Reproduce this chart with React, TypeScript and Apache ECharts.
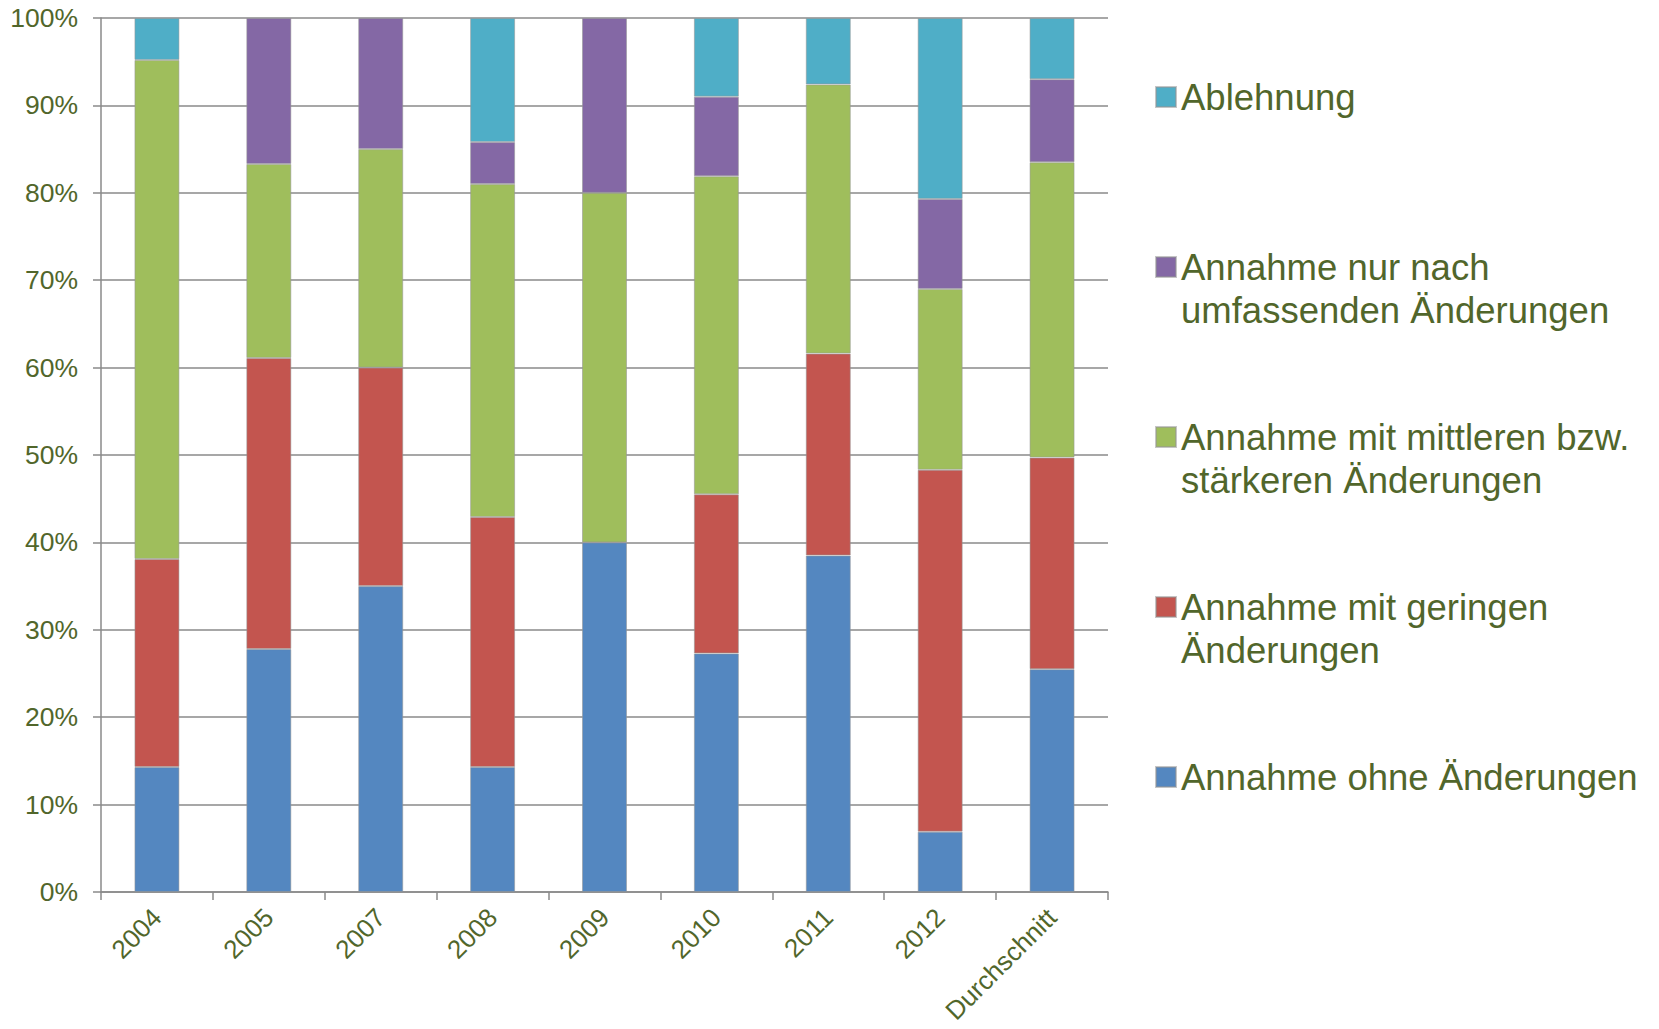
import React, { useEffect, useRef } from "react";
import * as echarts from "echarts";

const categories = ["2004", "2005", "2007", "2008", "2009", "2010", "2011", "2012", "Durchschnitt"];
const ohneAenderungen = [14.3, 27.8, 35.0, 14.3, 40.0, 27.3, 38.5, 6.9, 25.5];
const geringeAenderungen = [23.8, 33.3, 25.0, 28.6, 0, 18.2, 23.1, 41.4, 24.2];
const mittlereAenderungen = [57.1, 22.2, 25.0, 38.1, 40.0, 36.4, 30.8, 20.7, 33.8];
const umfassendeAenderungen = [0, 16.7, 15.0, 4.8, 20.0, 9.1, 0, 10.3, 9.5];
const ablehnung = [4.8, 0, 0, 14.2, 0, 9.0, 7.6, 20.7, 7.0];

const seriesNames = [
  "Annahme ohne Änderungen",
  "Annahme mit geringen Änderungen",
  "Annahme mit mittleren bzw. stärkeren Änderungen",
  "Annahme nur nach umfassenden Änderungen",
  "Ablehnung",
];
// legend text, wrapped as in the legend block
const legendLabels: Record<string, string[]> = {
  "Annahme ohne Änderungen": ["Annahme ohne Änderungen"],
  "Annahme mit geringen Änderungen": ["Annahme mit geringen", "Änderungen"],
  "Annahme mit mittleren bzw. stärkeren Änderungen": ["Annahme mit mittleren bzw.", "stärkeren Änderungen"],
  "Annahme nur nach umfassenden Änderungen": ["Annahme nur nach", "umfassenden Änderungen"],
  "Ablehnung": ["Ablehnung"],
};
const seriesValues = [ohneAenderungen, geringeAenderungen, mittlereAenderungen, umfassendeAenderungen, ablehnung];
const colors = ["#5487C0", "#C3554F", "#9FBE5C", "#8468A5", "#4FAEC7"];
// vertical centre of each legend marker, top to bottom
const legendOrder = [4, 3, 2, 1, 0];
const legendCenters = [97, 267, 437, 607, 777];

const TEXT = "#51662B";
const FONT = "Liberation Sans, Arial, sans-serif";
const LINE = "#8a8a8a";
const LEGEND_LH = 43;

export default function App() {
  const ref = useRef<HTMLDivElement>(null);

  useEffect(() => {
    if (!ref.current) return;
    const chart = echarts.init(ref.current, undefined, { renderer: "svg" });

    const legends = legendOrder.map((si, i) => {
      const name = seriesNames[si];
      const lines = legendLabels[name];
      // a blank leading line keeps the marker level with the first text line
      const shown = lines.length > 1 ? ["", ...lines] : lines;
      const blockH = shown.length * LEGEND_LH;
      return {
        data: [name],
        orient: "vertical",
        left: 1155,
        top: legendCenters[i] - blockH / 2,
        padding: 0,
        itemWidth: 20,
        itemHeight: 20,
        itemGap: 0,
        selectedMode: false,
        icon: "rect",
        formatter: () => shown.join("\n"),
        textStyle: {
          color: TEXT,
          fontFamily: FONT,
          fontSize: 36.5,
          lineHeight: LEGEND_LH,
        },
      };
    });

    chart.setOption({
      animation: false,
      backgroundColor: "#ffffff",
      grid: {
        left: 101,
        right: 551,
        top: 18,
        bottom: 137,
        containLabel: false,
        outerBoundsMode: "none",
      },
      legend: legends,
      xAxis: {
        type: "category",
        data: categories,
        boundaryGap: true,
        axisLine: { lineStyle: { color: LINE, width: 1.5 } },
        axisTick: { show: true, length: 8, lineStyle: { color: LINE, width: 1.5 } },
        axisLabel: {
          rotate: 45,
          margin: 21,
          color: TEXT,
          fontFamily: FONT,
          fontSize: 26,
          interval: 0,
        },
      },
      yAxis: {
        type: "value",
        min: 0,
        max: 100,
        interval: 10,
        axisLine: { show: true, lineStyle: { color: LINE, width: 1.5 } },
        axisTick: { show: true, length: 8, lineStyle: { color: LINE, width: 1.5 } },
        splitLine: { show: true, lineStyle: { color: LINE, width: 1.5 } },
        axisLabel: {
          formatter: "{value}%",
          margin: 23,
          color: TEXT,
          fontFamily: FONT,
          fontSize: 26.5,
        },
      },
      series: seriesValues.map((vals, i) => ({
        name: seriesNames[i],
        type: "bar",
        stack: "total",
        barWidth: 45,
        data: vals.map((v) => (v === 0 ? null : v)),
        itemStyle: {
          color: colors[i],
          borderColor: "rgba(150,150,150,0.55)",
          borderWidth: 1,
        },
      })),
    });

    return () => chart.dispose();
  }, []);

  return (
    <div
      ref={ref}
      style={{ position: "fixed", left: 0, top: 0, width: 1659, height: 1029 }}
    />
  );
}
